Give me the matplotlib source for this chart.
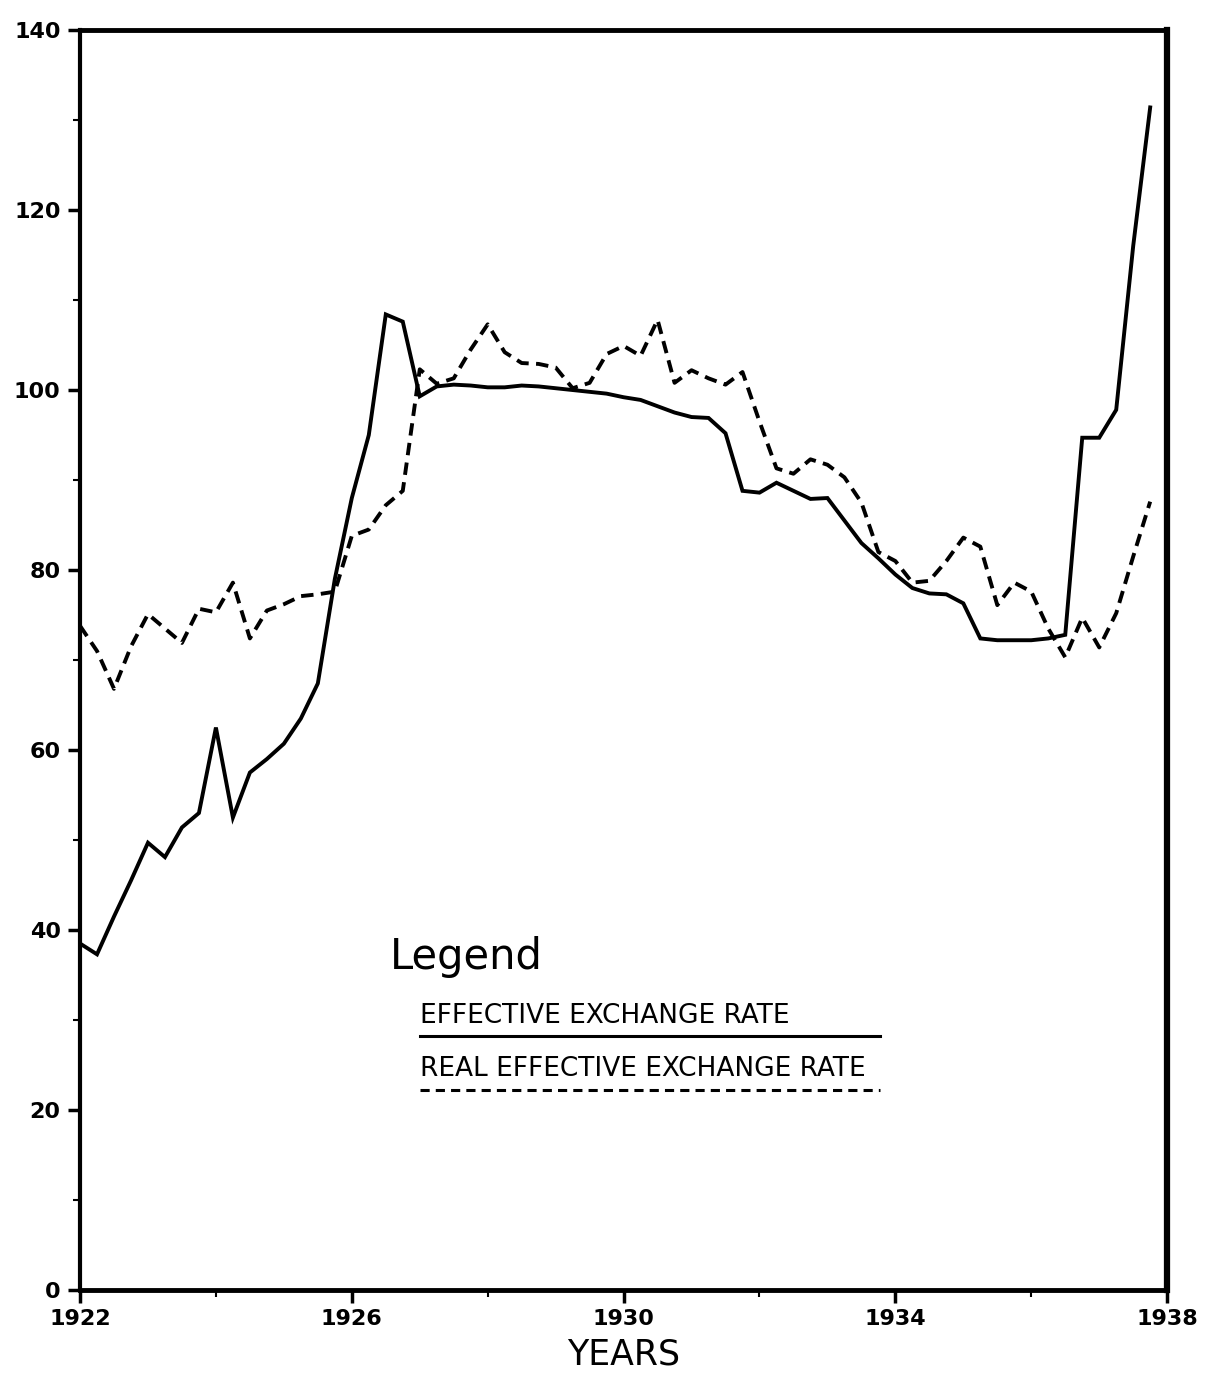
import numpy as np
import matplotlib
matplotlib.use("Agg")
import matplotlib.pyplot as plt
from matplotlib.ticker import MultipleLocator

# quarterly observations, 1922Q1 .. 1937Q4
years = np.arange(1922, 1938, 0.25)

effective_rate = [
    38.5, 37.3, 41.5, 45.5, 49.7, 48.1, 51.4, 53.0,
    62.5, 52.5, 57.5, 59.0, 60.7, 63.5, 67.4, 79.0,
    88.0, 95.0, 108.4, 107.6, 99.3, 100.4, 100.6, 100.5,
    100.3, 100.3, 100.5, 100.4, 100.2, 100.0, 99.8, 99.6,
    99.2, 98.9, 98.2, 97.5, 97.0, 96.9, 95.2, 88.8,
    88.6, 89.7, 88.8, 87.9, 88.0, 85.5, 83.0, 81.3,
    79.5, 78.0, 77.4, 77.3, 76.3, 72.4, 72.2, 72.2,
    72.2, 72.4, 72.8, 94.7, 94.7, 97.8, 116.0, 131.4,
]

real_effective_rate = [
    73.8, 71.0, 66.8, 71.5, 75.1, 73.5, 71.9, 75.7,
    75.3, 78.6, 72.4, 75.5, 76.2, 77.1, 77.3, 77.6,
    83.8, 84.5, 87.2, 88.8, 102.3, 100.7, 101.3, 104.5,
    107.3, 104.2, 103.0, 102.9, 102.5, 100.2, 100.8, 104.0,
    104.9, 103.8, 107.8, 100.8, 102.2, 101.3, 100.6, 102.0,
    96.5, 91.3, 90.7, 92.3, 91.7, 90.3, 87.5, 82.0,
    81.0, 78.6, 78.8, 81.0, 83.6, 82.6, 76.1, 78.6,
    77.6, 73.5, 70.3, 74.7, 71.4, 75.2, 81.5, 87.6,
]

x_ticks = [1922, 1926, 1930, 1934, 1938]
y_ticks = [0, 20, 40, 60, 80, 100, 120, 140]

fig = plt.figure(figsize=(12.07, 13.84), dpi=100)
ax = fig.add_axes([0.0663, 0.0679, 0.9007, 0.9104])

ax.plot(years, effective_rate, color="black", lw=2.8, solid_joinstyle="miter")
ax.plot(years, real_effective_rate, color="black", lw=2.8,
        linestyle=(0, (3.2, 1.9)))

ax.set_xlim(1922, 1938)
ax.set_ylim(0, 140)
ax.set_xticks(x_ticks)
ax.set_yticks(y_ticks)
ax.xaxis.set_minor_locator(MultipleLocator(2))
ax.yaxis.set_minor_locator(MultipleLocator(10))
ax.tick_params(which="major", direction="out", length=9, width=2.5, pad=5)
ax.tick_params(which="minor", direction="out", length=5, width=1.5)

for lab in ax.get_xticklabels() + ax.get_yticklabels():
    lab.set_fontweight("bold")
    lab.set_fontsize(16)

ax.spines["left"].set_linewidth(3.0)
ax.spines["bottom"].set_linewidth(3.5)
ax.spines["top"].set_linewidth(3.5)
ax.spines["right"].set_linewidth(4.5)

ax.set_xlabel("YEARS", fontsize=25, labelpad=6)

# hand drawn legend block inside the axes
ax.text(0.285, 0.255, "Legend", transform=ax.transAxes, fontsize=30,
        ha="left", va="baseline")
ax.text(0.313, 0.212, "EFFECTIVE EXCHANGE RATE", transform=ax.transAxes,
        fontsize=19, ha="left", va="baseline")
ax.plot([0.313, 0.736], [0.202, 0.202], transform=ax.transAxes,
        color="black", lw=2.2)
ax.text(0.313, 0.170, "REAL EFFECTIVE EXCHANGE RATE", transform=ax.transAxes,
        fontsize=19, ha="left", va="baseline")
ax.plot([0.313, 0.736], [0.159, 0.159], transform=ax.transAxes,
        color="black", lw=2.2, linestyle=(0, (3, 2)))

fig.savefig("out.png", dpi=100)
